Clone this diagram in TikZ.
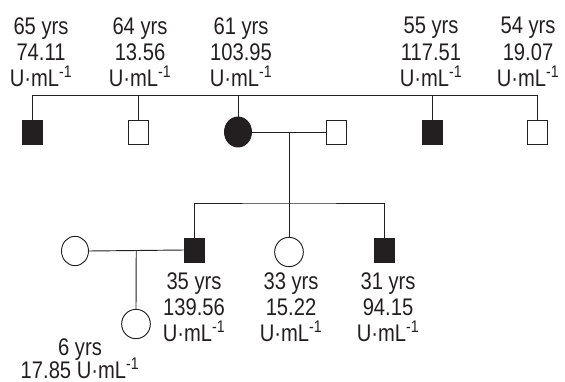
\documentclass[tikz,border=0pt]{standalone}
\usepackage{fontspec}
\setmainfont{Liberation Sans}[FakeStretch=0.84]
\usepackage{xcolor}
\usetikzlibrary{positioning,calc,shapes.geometric}
\definecolor{ink}{HTML}{231F20}
\newcommand{\uml}{U·mL\textsuperscript{-1}}

\begin{document}
\begin{tikzpicture}[x=0.3mm, y=-0.3mm,
  font=\fontsize{20.5}{22.5}\selectfont,
  male/.style={draw=ink, line width=0.8pt, rectangle, minimum width=6mm, minimum height=7.2mm, inner sep=0pt},
  female/.style={draw=ink, line width=0.8pt, ellipse, minimum width=8.6mm, minimum height=8.8mm, inner sep=0pt},
  aff/.style={fill=ink},
  lab/.style={align=center, text=ink, inner sep=0pt, anchor=north},
  link/.style={draw=ink, line width=0.8pt}
]
\useasboundingbox (0,0) rectangle (565,381);
% first generation
\node[male,aff] (m65) at (32,132) {};
\node[male] (m64) at (138,132) {};
\node[female,aff,minimum width=8.1mm,minimum height=9mm] (f61) at (238,132) {};
\node[male] (sp61) at (336.5,132) {};
\node[male,aff] (m55) at (432,132) {};
\node[male] (m54) at (537,132) {};
\coordinate (sibs) at (0,95);

\node[lab] (l65) at (41,17) {65 yrs\\74.11\\\uml};
\node[lab] (l64) at (140,17) {64 yrs\\13.56\\\uml};
\node[lab] (l61) at (241,17) {61 yrs\\103.95\\\uml};
\node[lab] (l55) at (431,17) {55 yrs\\117.51\\\uml};
\node[lab] (l54) at (528,17) {54 yrs\\19.07\\\uml};

% second generation
\node[male,aff] (m35) at (194,250) {};
\node[female] (f33) at (289,252) {};
\node[male,aff] (m31) at (384,250) {};
\node[female,minimum width=8.1mm] (sp35) at (75,251) {};
\coordinate (kids) at (0,203);

\node[lab] (l35) at (194,272) {35 yrs\\139.56\\\uml};
\node[lab] (l33) at (291,272) {33 yrs\\15.22\\\uml};
\node[lab] (l31) at (388,272) {31 yrs\\94.15\\\uml};

% third generation
\node[female] (f6) at (136,324) {};
\node[lab] (l6) at (80,338) {6 yrs\\[-2.5pt]17.85 \uml};

\draw[link] (m65.north) -- (m65 |- sibs) -- (m54 |- sibs) -- (m54.north);
\draw[link] (m64.north) -- (m64 |- sibs);
\draw[link] (f61.north) -- (f61 |- sibs);
\draw[link] (m55.north) -- (m55 |- sibs);

\draw[link] (f61.east) -- (sp61.west);
\coordinate (mar1) at ($(f61.east)!0.5!(sp61.west)$);
\draw[link] (mar1) -- (f33.north);
\draw[link] (m35.north) |- (mar1 |- kids) -| (m31.north);

\draw[link] (sp35.east) -- (m35.west);
\coordinate (mar2) at ($(sp35.east)!0.5!(m35.west)$);
\draw[link] (mar2) -- (f6.north);
\end{tikzpicture}
\end{document}
